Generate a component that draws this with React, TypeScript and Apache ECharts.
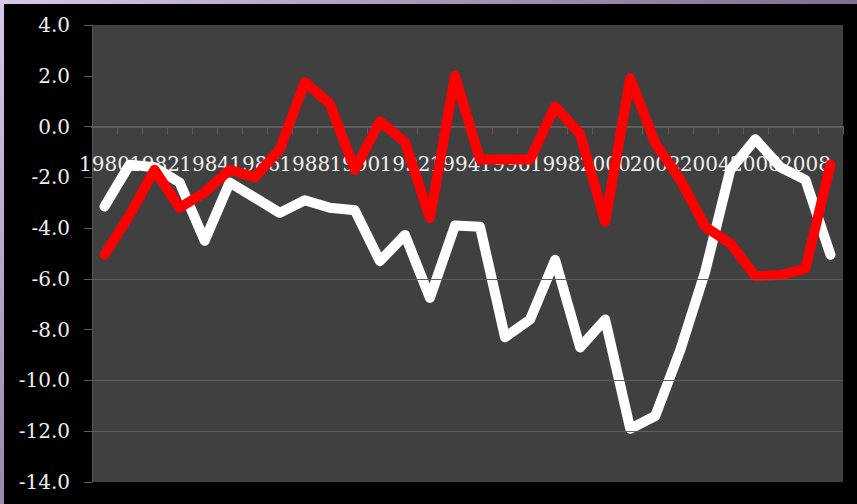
import React, { useEffect, useRef } from "react";
import * as echarts from "echarts";

const years = [
  "1980", "1981", "1982", "1983", "1984", "1985", "1986", "1987", "1988", "1989",
  "1990", "1991", "1992", "1993", "1994", "1995", "1996", "1997", "1998", "1999",
  "2000", "2001", "2002", "2003", "2004", "2005", "2006", "2007", "2008", "2009",
];

const whiteValues = [
  -3.15, -1.5, -1.6, -2.2, -4.5, -2.2, -2.8, -3.4, -2.9, -3.2,
  -3.3, -5.3, -4.27, -6.75, -3.9, -3.95, -8.3, -7.6, -5.25, -8.7,
  -7.6, -11.9, -11.4, -8.8, -5.7, -1.7, -0.5, -1.6, -2.1, -5.05,
];

const redValues = [
  -5.05, -3.5, -1.7, -3.2, -2.6, -1.7, -2.0, -0.9, 1.75, 0.9,
  -1.7, 0.2, -0.6, -3.6, 2.0, -1.3, -1.3, -1.3, 0.8, -0.3,
  -3.75, 1.9, -0.65, -2.1, -3.95, -4.6, -5.9, -5.85, -5.6, -1.5,
];

const gridLineValues = [-6, -10, -12];

const Y_MIN = -14;
const Y_MAX = 4;
const FONT = "DejaVu Serif";

const GRID_TOP = 25;
const GRID_BOTTOM = 22;
const CHART_H = 504;

export default function App() {
  const ref = useRef<HTMLDivElement>(null);
  useEffect(() => {
    if (!ref.current) return;
    const chart = echarts.init(ref.current, undefined, { renderer: "svg" });
    const plotH = CHART_H - GRID_TOP - GRID_BOTTOM;
    const zeroFromBottom = (plotH * (0 - Y_MIN)) / (Y_MAX - Y_MIN);
    chart.setOption({
      animation: false,
      backgroundColor: "#000000",
      graphic: [
        {
          type: "rect",
          shape: { x: 0, y: 0, width: 857, height: 4 },
          style: {
            fill: {
              type: "linear", x: 0, y: 0, x2: 1, y2: 0,
              colorStops: [
                { offset: 0, color: "#d8c8f0" },
                { offset: 0.5, color: "#a898b8" },
                { offset: 1, color: "#807090" },
              ],
            },
          },
          z: 10,
        },
        {
          type: "rect",
          shape: { x: 0, y: 0, width: 4, height: 504 },
          style: {
            fill: {
              type: "linear", x: 0, y: 0, x2: 0, y2: 1,
              colorStops: [
                { offset: 0, color: "#d8c8f0" },
                { offset: 1, color: "#9888b0" },
              ],
            },
          },
          z: 10,
        },
      ],
      grid: {
        left: 92,
        right: 14,
        top: GRID_TOP,
        bottom: GRID_BOTTOM,
        show: true,
        backgroundColor: "#404040",
        borderWidth: 0,
        containLabel: false,
        outerBoundsMode: "none",
      },
      xAxis: {
        type: "category",
        data: years,
        boundaryGap: true,
        position: "bottom",
        offset: -zeroFromBottom,
        axisLine: { show: true, onZero: false, lineStyle: { color: "#5c5c5c", width: 2 } },
        axisTick: { show: true, interval: 0, length: 8, lineStyle: { color: "#5c5c5c", width: 1 } },
        axisLabel: {
          interval: 0,
          margin: 27,
          color: "#eeeeee",
          fontFamily: FONT,
          fontSize: 20,
          hideOverlap: false,
          showMinLabel: true,
          showMaxLabel: true,
          formatter: (value: string, index: number) => (index % 2 === 0 ? value : ""),
        },
        splitLine: { show: false },
      },
      yAxis: {
        type: "value",
        min: Y_MIN,
        max: Y_MAX,
        interval: 2,
        axisLine: { show: true, lineStyle: { color: "#555555", width: 1 } },
        axisTick: { show: true, length: 8, lineStyle: { color: "#5c5c5c" } },
        axisLabel: {
          margin: 22,
          color: "#eeeeee",
          fontFamily: FONT,
          fontSize: 20,
          formatter: (v: number) => v.toFixed(1),
        },
        splitLine: { show: false },
      },
      series: [
        {
          type: "line",
          data: [],
          z: 1,
          silent: true,
          markLine: {
            silent: true,
            symbol: "none",
            label: { show: false },
            lineStyle: { color: "#5e5e5e", width: 1, type: "solid" },
            data: gridLineValues.map((v) => ({ yAxis: v })),
          },
        },
        {
          name: "white",
          type: "line",
          data: whiteValues,
          showSymbol: false,
          symbol: "none",
          z: 3,
          lineStyle: { color: "#ffffff", width: 10, cap: "round", join: "round" },
        },
        {
          name: "red",
          type: "line",
          data: redValues,
          showSymbol: false,
          symbol: "none",
          z: 4,
          lineStyle: { color: "#ff0000", width: 10, cap: "round", join: "round" },
        },
      ],
    });
    return () => chart.dispose();
  }, []);
  return (
    <div
      ref={ref}
      style={{ position: "fixed", left: 0, top: 0, width: 857, height: CHART_H }}
    />
  );
}
